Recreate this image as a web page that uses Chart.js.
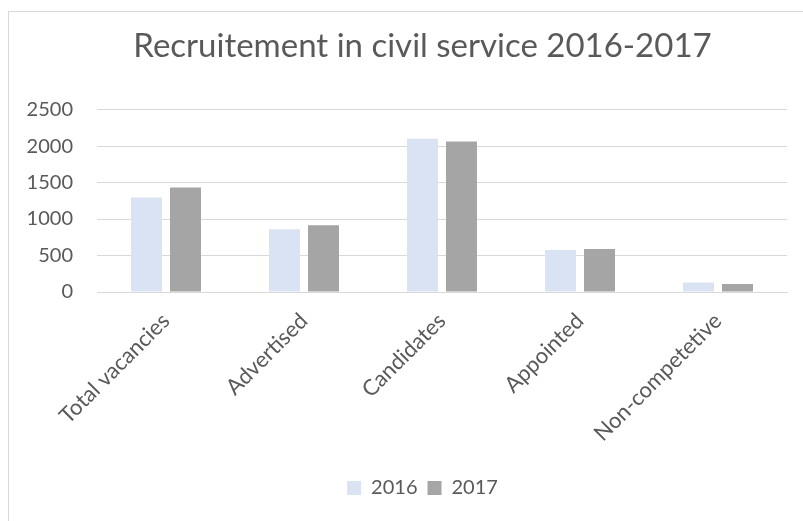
<!DOCTYPE html>
<html>
<head>
<meta charset="utf-8">
<script src="https://cdn.jsdelivr.net/npm/chart.js@4"></script>
<style>
  html, body { margin: 0; padding: 0; background: #fff; }
  #wrap { position: relative; width: 803px; height: 521px; overflow: hidden; }
  #frame {
    position: absolute; left: 8px; top: 11px; width: 900px; height: 600px;
    border-left: 1px solid #d9d9d9; border-top: 1px solid #d9d9d9;
    pointer-events: none;
  }
</style>
</head>
<body>
<div id="wrap">
  <canvas id="chart" width="825" height="521"></canvas>
  <div id="frame"></div>
</div>
<script>
// categorias y series
const categories = ['Total vacancies', 'Advertised', 'Candidates', 'Appointed', 'Non-competetive'];
const values2016 = [1295, 859, 2099, 574, 129];
const values2017 = [1432, 914, 2062, 588, 110];
const yTicks = [0, 500, 1000, 1500, 2000, 2500];

const TEXT = '#595959';
const GRID = '#d9d9d9';
const FONT = 'Lato, "Liberation Sans", sans-serif';

new Chart(document.getElementById('chart'), {
  type: 'bar',
  data: {
    labels: categories,
    datasets: [
      { label: '2016', data: values2016, backgroundColor: '#dae3f3', categoryPercentage: 0.565, barPercentage: 0.795 },
      { label: '2017', data: values2017, backgroundColor: '#a5a5a5', categoryPercentage: 0.565, barPercentage: 0.795 },
    ]
  },
  options: {
    responsive: false,
    animation: false,
    layout: { padding: { top: 12, right: 0, bottom: 13, left: 20 } },
    plugins: {
      title: {
        display: true,
        text: 'Recruitement in civil service 2016-2017',
        color: TEXT,
        font: { family: FONT, size: 33, weight: 'normal' },
        padding: { top: 15, bottom: 43 },
      },
      legend: {
        position: 'bottom',
        labels: {
          color: TEXT,
          font: { family: FONT, size: 20 },
          boxWidth: 14, boxHeight: 14,
          padding: 10,
        }
      },
      tooltip: { enabled: false },
    },
    scales: {
      x: {
        grid: { display: false },
        border: { color: GRID },
        ticks: { color: TEXT, font: { family: FONT, size: 22 }, minRotation: 45, maxRotation: 45, padding: 8 },
        afterFit: (s) => { s.height = 176; },
      },
      y: {
        min: 0, max: 2500,
        afterBuildTicks: (s) => { s.ticks = yTicks.map(v => ({ value: v })); },
        grid: { color: GRID, drawTicks: false },
        border: { display: false },
        ticks: { color: TEXT, font: { family: FONT, size: 20 }, padding: 24, callback: (v) => String(v) },
        afterFit: (s) => { s.width = 77; },
      },
      // eje vacio a la derecha, solo reserva espacio
      yRight: {
        position: 'right',
        grid: { display: false },
        border: { display: false },
        ticks: { display: false },
        afterFit: (s) => { s.width = 38; },
      }
    }
  }
});
</script>
</body>
</html>
